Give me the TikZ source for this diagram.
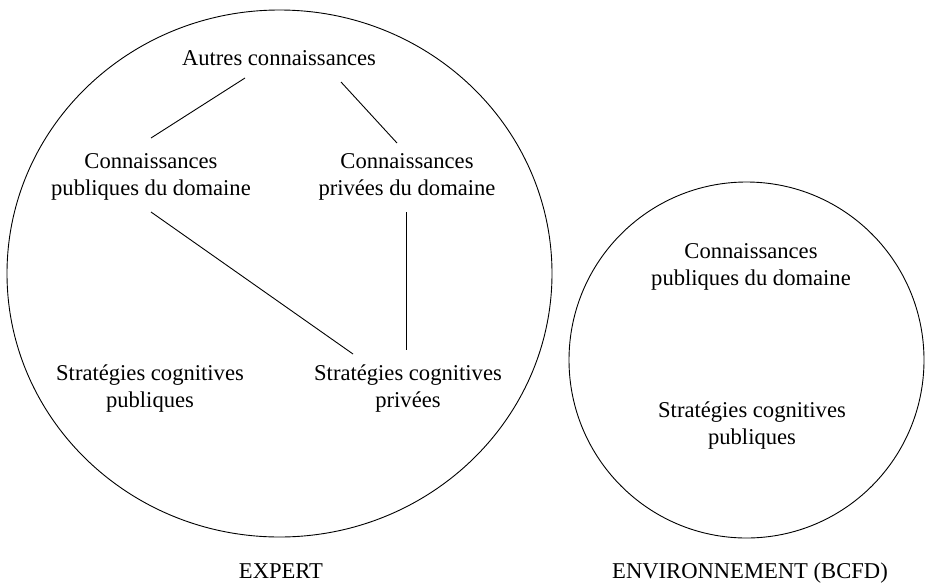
\documentclass[tikz,border=0pt]{standalone}
\usepackage{fontspec}
\setmainfont{Liberation Serif}
\usetikzlibrary{calc}
\begin{document}
\begin{tikzpicture}[x=1pt,y=-1pt,line width=0.9pt,
  lbl/.style={font=\fontsize{22.6}{27}\selectfont, align=center, inner sep=0pt},
  link/.style={draw=black, line width=0.9pt}]
\useasboundingbox (0,0) rectangle (926,584);
% enclosing shapes
\draw (279.5,273.5) ellipse [x radius=272.5, y radius=263.5];
\draw (746.5,360) ellipse [x radius=177.5, y radius=178];
% expert
\node[lbl] (aut)   at (279,58)    {Autres connaissances};
\node[lbl] (cpubE) at (151,176.5) {Connaissances\\publiques du domaine};
\node[lbl] (cpriv) at (407,176.5) {Connaissances\\privées du domaine};
\node[lbl] (spubE) at (150,389)   {Stratégies cognitives\\publiques};
\node[lbl] (spriv) at (408,389)   {Stratégies cognitives\\privées};
% environment
\node[lbl] (cpubB) at (751,266.5) {Connaissances\\publiques du domaine};
\node[lbl] (spubB) at (752,426)   {Stratégies cognitives\\publiques};
% captions
\node[lbl,anchor=base] (expert) at (281,578) {EXPERT};
\node[lbl,anchor=base] (env) at (750,578) {ENVIRONNEMENT (BCFD)};
% connectors
\draw[link] ($(aut)+(-34,20)$) -- ($(cpubE)+(0,-38.5)$);
\draw[link] ($(aut)+(62,24)$) -- ($(cpriv)+(-10,-33.5)$);
\draw[link] ($(cpubE)+(0,35.5)$) -- ($(spriv)+(-55,-35)$);
\draw[link] ($(cpriv)+(-1,35.5)$) -- ($(spriv)+(-2,-39)$);
\end{tikzpicture}
\end{document}
